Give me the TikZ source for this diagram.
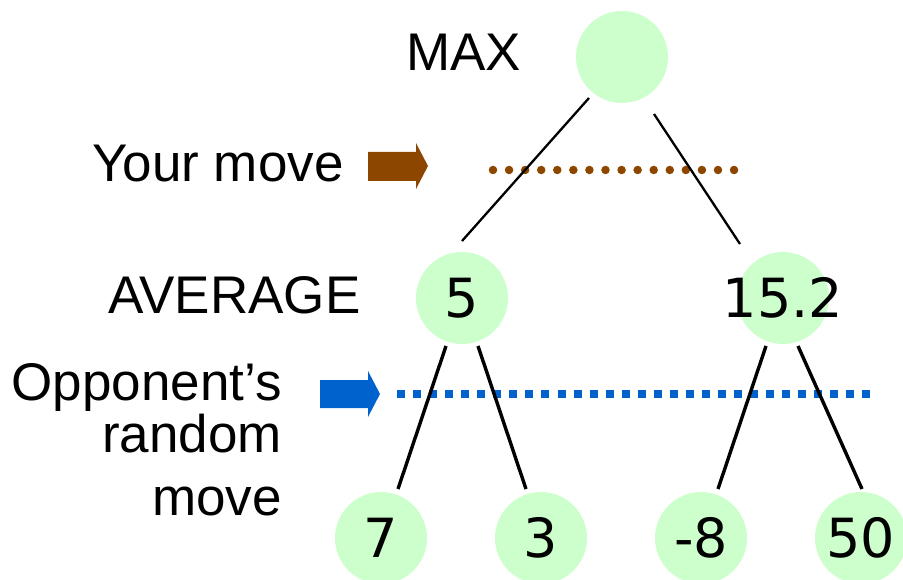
\documentclass[tikz,border=0pt]{standalone}
\usepackage{fontspec}
\setmainfont{Liberation Sans}
\newfontfamily\numfont{DejaVu Sans}
\usetikzlibrary{calc}
\definecolor{nodegreen}{RGB}{204,255,204}
\definecolor{movebrown}{RGB}{140,70,0}
\definecolor{moveblue}{RGB}{0,98,204}
\newcommand{\val}[1]{\makebox[0pt]{#1}}
\tikzset{
  state/.style={circle, fill=nodegreen, draw=none, minimum size=92pt, inner sep=0pt,
    font=\numfont\fontsize{54}{60}\selectfont},
  lbl/.style={inner sep=0pt, font=\fontsize{53}{60}\selectfont},
  upper/.style={line width=2.3pt, black},
  lower/.style={line width=3.4pt, black},
}
\begin{document}
\begin{tikzpicture}[x=1pt,y=-1pt]
\useasboundingbox (0,0) rectangle (903,580);
\begin{scope}
\clip (0,0) rectangle (903,580);
% tree nodes
\node[state] (root) at (622,57) {};
\node[state] (avgL) at (462,298) {\val{5}};
\node[state] (avgR) at (783,298) {\val{15.2}};
\node[state] (c1) at (381,538) {\val{7}};
\node[state] (c2) at (541,538) {\val{3}};
\node[state] (c3) at (701,538) {\val{-8}};
\node[state] (c4) at (861,538) {\val{50}};
\end{scope}
% labels
\node[lbl, anchor=base west] (lmax) at (406,71) {MAX};
\node[lbl, anchor=base west] (lyour) at (92,182) {Your move};
\node[lbl, anchor=base west] (lavg) at (108,313) {AVERAGE};
\node[lbl, anchor=base east] (lopp1) at (282,400) {Opponent’s};
\node[lbl, anchor=base east] (lopp2) at (282,452) {random};
\node[lbl, anchor=base east] (lopp3) at (282,515) {move};
% brown arrow and dotted line
\fill[movebrown] (368,152) -- (416,152) -- (416,143) -- (428,166) -- (416,189) -- (416,181) -- (368,181) -- cycle;
\coordinate (bd1) at (493,170);
\coordinate (bd2) at (737,170);
\draw[movebrown, line width=8.5pt, line cap=round, dash pattern=on 0pt off 16.07pt] (bd1) -- (bd2);
% blue arrow and dotted line
\fill[moveblue] (320,380) -- (368,380) -- (368,371) -- (380,394) -- (368,417) -- (368,408) -- (320,408) -- cycle;
\coordinate (bl1) at (397,394);
\coordinate (bl2) at (871,394);
\draw[moveblue, line width=7.5pt, dash pattern=on 8pt off 8.05pt] (bl1) -- (bl2);
% edges
\draw[upper] ($(root)+(-33,41)$) -- ($(avgL)+(0,-57)$);
\draw[upper] ($(root)+(32,57)$) -- ($(avgR)+(-43,-54)$);
\draw[lower] ($(avgL)+(-16,48)$) -- ($(c1)+(17,-49)$);
\draw[lower] ($(avgL)+(16,48)$) -- ($(c2)+(-15,-49)$);
\draw[lower] ($(avgR)+(-17,48)$) -- ($(c3)+(17,-49)$);
\draw[lower] ($(avgR)+(15,48)$) -- ($(c4)+(1,-49)$);
\end{tikzpicture}
\end{document}
